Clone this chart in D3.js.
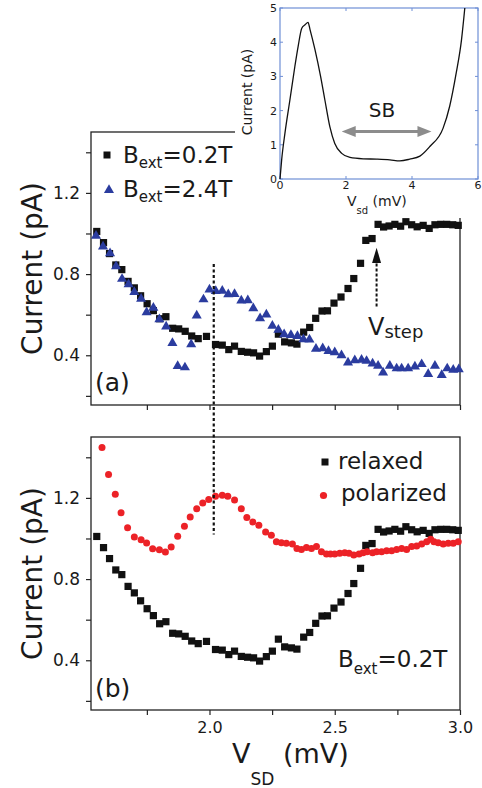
<!DOCTYPE html>
<html>
<head>
<meta charset="utf-8">
<script src="https://cdn.jsdelivr.net/npm/d3@7"></script>
<style>
  body { margin: 0; background: #fff; }
  svg { display: block; }
  text { font-family: "DejaVu Sans", sans-serif; fill: #1a1a1a; }
</style>
</head>
<body>
<div id="chart"></div>
<script>
// [V_SD (mV), current (pA)].
var relaxed = [
  [1.550, 1.010], [1.577, 0.955], [1.601, 0.901], [1.626, 0.845], [1.650, 0.822],
  [1.675, 0.764], [1.700, 0.732], [1.725, 0.693], [1.751, 0.654], [1.776, 0.620],
  [1.801, 0.580], [1.826, 0.590], [1.853, 0.533], [1.877, 0.530], [1.903, 0.518],
  [1.929, 0.495], [1.955, 0.482], [1.988, 0.493], [2.024, 0.453], [2.051, 0.450],
  [2.077, 0.428], [2.100, 0.445], [2.127, 0.419], [2.152, 0.415], [2.176, 0.412],
  [2.200, 0.396], [2.227, 0.418], [2.251, 0.445], [2.275, 0.504], [2.300, 0.466],
  [2.327, 0.461], [2.349, 0.455], [2.376, 0.514], [2.400, 0.537], [2.424, 0.582],
  [2.449, 0.618], [2.471, 0.619], [2.497, 0.657], [2.525, 0.687], [2.553, 0.729],
  [2.576, 0.778], [2.603, 0.853], [2.624, 0.966], [2.649, 0.975], [2.673, 1.045],
  [2.695, 1.032], [2.717, 1.037], [2.740, 1.045], [2.763, 1.036], [2.784, 1.058],
  [2.807, 1.043], [2.829, 1.033], [2.853, 1.040], [2.877, 1.025], [2.900, 1.043],
  [2.923, 1.045], [2.947, 1.045], [2.971, 1.043], [2.993, 1.040]
];

var field24 = [
  [1.547, 0.989], [1.575, 0.935], [1.603, 0.902], [1.627, 0.838], [1.651, 0.776],
  [1.677, 0.750], [1.700, 0.711], [1.727, 0.678], [1.749, 0.611], [1.776, 0.634],
  [1.800, 0.577], [1.827, 0.541], [1.852, 0.460], [1.873, 0.347], [1.902, 0.340],
  [1.927, 0.454], [1.949, 0.595], [1.976, 0.675], [2.000, 0.724], [2.025, 0.716],
  [2.051, 0.718], [2.075, 0.700], [2.100, 0.702], [2.127, 0.669], [2.153, 0.671],
  [2.175, 0.631], [2.202, 0.582], [2.227, 0.600], [2.251, 0.545], [2.275, 0.525],
  [2.298, 0.503], [2.325, 0.499], [2.351, 0.494], [2.375, 0.479], [2.399, 0.477],
  [2.425, 0.432], [2.452, 0.434], [2.475, 0.421], [2.500, 0.415], [2.527, 0.400],
  [2.553, 0.364], [2.580, 0.375], [2.607, 0.377], [2.627, 0.372], [2.651, 0.359],
  [2.673, 0.348], [2.693, 0.315], [2.720, 0.348], [2.747, 0.335], [2.767, 0.335],
  [2.793, 0.335], [2.820, 0.344], [2.847, 0.356], [2.873, 0.307], [2.900, 0.348],
  [2.927, 0.302], [2.949, 0.335], [2.973, 0.328], [2.995, 0.331]
];

var polarized = [
  [1.571, 1.448], [1.597, 1.315], [1.624, 1.218], [1.647, 1.127], [1.673, 1.053],
  [1.700, 1.007], [1.727, 0.994], [1.749, 0.978], [1.773, 0.950], [1.800, 0.945],
  [1.824, 0.933], [1.847, 0.958], [1.873, 1.011], [1.900, 1.060], [1.923, 1.106],
  [1.949, 1.147], [1.973, 1.175], [1.997, 1.192], [2.024, 1.208], [2.051, 1.213],
  [2.073, 1.208], [2.100, 1.189], [2.127, 1.147], [2.149, 1.103], [2.173, 1.081],
  [2.197, 1.065], [2.224, 1.032], [2.247, 1.016], [2.267, 0.984], [2.287, 0.979],
  [2.307, 0.976], [2.331, 0.973], [2.349, 0.951], [2.367, 0.946], [2.387, 0.956],
  [2.407, 0.951], [2.427, 0.960], [2.447, 0.935], [2.467, 0.923], [2.483, 0.923],
  [2.500, 0.923], [2.520, 0.927], [2.540, 0.930], [2.557, 0.927], [2.576, 0.919],
  [2.597, 0.923], [2.613, 0.930], [2.629, 0.935], [2.651, 0.930], [2.667, 0.935],
  [2.687, 0.935], [2.707, 0.940], [2.727, 0.940], [2.747, 0.946], [2.767, 0.951],
  [2.787, 0.946], [2.807, 0.960], [2.827, 0.963], [2.847, 0.973], [2.867, 0.984],
  [2.883, 0.996], [2.896, 0.984], [2.913, 0.979], [2.933, 0.973], [2.953, 0.976],
  [2.973, 0.976], [2.993, 0.984]
];

// Inset: full I-V trace, [V_sd (mV), current (pA)].
var insetCurve = [
  [0.00, 0.00], [0.05, 0.56], [0.15, 1.34], [0.30, 2.31], [0.45, 3.29],
  [0.55, 3.88], [0.66, 4.41], [0.76, 4.51], [0.85, 4.58], [0.91, 4.37],
  [1.06, 3.78], [1.23, 3.00], [1.36, 2.31], [1.51, 1.53], [1.66, 1.04],
  [1.87, 0.75], [2.12, 0.63], [2.52, 0.59], [2.93, 0.58], [3.33, 0.56],
  [3.63, 0.53], [3.93, 0.58], [4.24, 0.67], [4.54, 0.95], [4.94, 1.48],
  [5.14, 2.12], [5.34, 3.10], [5.50, 4.07], [5.60, 5.00]
];

var yTicks = [0.2, 0.4, 0.6, 0.8, 1.0, 1.2, 1.4];
var yLabels = [0.4, 0.8, 1.2];
var xTicks = [1.75, 2.0, 2.25, 2.5, 2.75, 3.0];
var xLabels = [2.0, 2.5, 3.0];
var insetXTicks = [0, 2, 4, 6];
var insetYTicks = [0, 1, 2, 3, 4, 5];
var sbRange = [1.87, 4.59];
var guideV = 2.017;
var stepV = 2.667;

var svg = d3.select('#chart').append('svg')
  .attr('width', 482)
  .attr('height', 788);

var x = d3.scaleLinear().domain([1.527, 3.0]).range([91, 460]);
var ya = d3.scaleLinear().domain([0.155, 1.5]).range([405, 132]);
var yb = d3.scaleLinear().domain([0.155, 1.5]).range([710, 437]);

function richText(px, py, size, parts) {
  var t = svg.append('text').attr('x', px).attr('y', py).attr('font-size', size);
  parts.forEach(function(p) {
    t.append('tspan').attr('font-size', p[1] || size).attr('dy', p[2] || 0).text(p[0]);
  });
  return t;
}

function panel(y, showX) {
  var g = svg.append('g');
  g.append('rect')
    .attr('x', x.range()[0])
    .attr('y', y.range()[1])
    .attr('width', x.range()[1] - x.range()[0])
    .attr('height', y.range()[0] - y.range()[1])
    .attr('fill', 'none')
    .attr('stroke', '#222')
    .attr('stroke-width', 1.3);

  var left = g.append('g')
    .attr('transform', 'translate(' + x.range()[0] + ',0)')
    .call(d3.axisLeft(y).tickValues(yTicks).tickSize(5).tickPadding(6)
      .tickFormat(function(d) { return yLabels.indexOf(d) >= 0 ? d3.format('.1f')(d) : ''; }));
  left.select('.domain').remove();
  left.selectAll('text').attr('font-size', 17);

  var bottom = g.append('g')
    .attr('transform', 'translate(0,' + y.range()[0] + ')')
    .call(d3.axisBottom(x).tickValues(xTicks).tickSize(5).tickPadding(7)
      .tickFormat(function(d) { return showX && xLabels.indexOf(d) >= 0 ? d3.format('.1f')(d) : ''; }));
  bottom.select('.domain').remove();
  bottom.selectAll('text').attr('font-size', 16);

  g.selectAll('.tick line').attr('stroke', '#222').attr('stroke-width', 1.2);
  g.selectAll('.tick text')
    .attr('font-family', '"DejaVu Sans", sans-serif')
    .attr('fill', '#1a1a1a');

  svg.append('text')
    .attr('transform', 'translate(42,' + (y.range()[0] + y.range()[1]) / 2 + ') rotate(-90)')
    .attr('text-anchor', 'middle')
    .attr('font-size', 28)
    .text('Current (pA)');
}

function squares(data, y) {
  svg.append('g').selectAll('rect').data(data).enter().append('rect')
    .attr('x', function(d) { return x(d[0]) - 3.6; })
    .attr('y', function(d) { return y(d[1]) - 3.6; })
    .attr('width', 7.2)
    .attr('height', 7.2)
    .attr('fill', '#111');
}

// Panel (a)
panel(ya, false);
squares(relaxed, ya);

var tri = d3.symbol().type(d3.symbolTriangle).size(44);
svg.append('g').selectAll('path').data(field24).enter().append('path')
  .attr('d', tri)
  .attr('transform', function(d) { return 'translate(' + x(d[0]) + ',' + ya(d[1]) + ')'; })
  .attr('fill', '#2b3c9f');

svg.append('rect').attr('x', 103.5).attr('y', 151.5).attr('width', 7).attr('height', 7).attr('fill', '#111');
richText(123, 163, 23, [['B'], ['ext', 15, 5], ['=0.2T', 23, -5]]);
svg.append('path').attr('d', tri).attr('transform', 'translate(109,190)').attr('fill', '#2b3c9f');
richText(123, 197, 23, [['B'], ['ext', 15, 5], ['=2.4T', 23, -5]]);
svg.append('text').attr('x', 95).attr('y', 391).attr('font-size', 25).text('(a)');

// V_step arrow
var sx = x(stepV);
svg.append('line')
  .attr('x1', sx).attr('x2', sx)
  .attr('y1', ya(0.64)).attr('y2', ya(0.86))
  .attr('stroke', '#111').attr('stroke-width', 2).attr('stroke-dasharray', '3,2');
svg.append('path')
  .attr('d', 'M' + sx + ',' + ya(0.93) + 'L' + (sx - 4.5) + ',' + ya(0.855) + 'L' + (sx + 4.5) + ',' + ya(0.855) + 'Z')
  .attr('fill', '#111');
richText(368, 335, 24, [['V'], ['step', 18, 3]]);

// Panel (b)
panel(yb, true);
squares(relaxed, yb);
svg.append('g').selectAll('circle').data(polarized).enter().append('circle')
  .attr('cx', function(d) { return x(d[0]); })
  .attr('cy', function(d) { return yb(d[1]); })
  .attr('r', 3.5)
  .attr('fill', '#ec2227');

svg.append('rect').attr('x', 321.5).attr('y', 458.5).attr('width', 7).attr('height', 7).attr('fill', '#111');
richText(338, 469, 23, [['relaxed']]);
svg.append('circle').attr('cx', 323.5).attr('cy', 495.5).attr('r', 3.6).attr('fill', '#ec2227');
richText(341, 501, 23, [['polarized']]);
richText(338, 667, 23, [['B'], ['ext', 15, 7], ['=0.2T', 23, -7]]);
svg.append('text').attr('x', 95).attr('y', 697).attr('font-size', 25).text('(b)');

richText(232, 763, 27, [['V'], ['SD', 17, 22], [' (mV)', 27, -22]]);

// Dashed guide through both panels
svg.append('line')
  .attr('x1', x(guideV)).attr('x2', x(guideV))
  .attr('y1', ya(0.85)).attr('y2', yb(1.02))
  .attr('stroke', '#111').attr('stroke-width', 2.2).attr('stroke-dasharray', '3,2.5');

// Inset
svg.append('rect').attr('x', 235).attr('y', 0).attr('width', 247).attr('height', 218).attr('fill', '#fff');

var xi = d3.scaleLinear().domain([0, 6]).range([280, 478]);
var yi = d3.scaleLinear().domain([0, 5]).range([179, 8]);
var blue = '#6f8fd6';

svg.append('rect')
  .attr('x', xi(0)).attr('y', yi(5))
  .attr('width', xi(6) - xi(0)).attr('height', yi(0) - yi(5))
  .attr('fill', 'none').attr('stroke', blue).attr('stroke-width', 1.2);

var inset = svg.append('g');
inset.selectAll('.xt').data(insetXTicks).enter().append('path')
  .attr('d', function(d) { return 'M' + xi(d) + ',' + yi(0) + 'v-3M' + xi(d) + ',' + yi(5) + 'v3'; })
  .attr('stroke', blue);
inset.selectAll('.yt').data(insetYTicks).enter().append('path')
  .attr('d', function(d) { return 'M' + xi(0) + ',' + yi(d) + 'h3M' + xi(6) + ',' + yi(d) + 'h-3'; })
  .attr('stroke', blue);
inset.selectAll('.xl').data(insetXTicks).enter().append('text')
  .attr('x', function(d) { return xi(d); })
  .attr('y', 189)
  .attr('text-anchor', 'middle')
  .attr('font-size', 11)
  .text(function(d) { return d; });
inset.selectAll('.yl').data(insetYTicks).enter().append('text')
  .attr('x', 277)
  .attr('y', function(d) { return yi(d); })
  .attr('dy', '0.36em')
  .attr('text-anchor', 'end')
  .attr('font-size', 11)
  .text(function(d) { return d; });

inset.append('path')
  .datum(insetCurve)
  .attr('d', d3.line().x(function(d) { return xi(d[0]); }).y(function(d) { return yi(d[1]); }).curve(d3.curveMonotoneX))
  .attr('fill', 'none')
  .attr('stroke', '#111')
  .attr('stroke-width', 1.3);

// SB double arrow
var ay = yi(1.39), ax0 = xi(sbRange[0]), ax1 = xi(sbRange[1]);
inset.append('line').attr('x1', ax0 + 10).attr('x2', ax1 - 10).attr('y1', ay).attr('y2', ay)
  .attr('stroke', '#8c8c8c').attr('stroke-width', 3);
inset.append('path')
  .attr('d', 'M' + ax0 + ',' + ay + 'l14,-5.5v11Z' + 'M' + ax1 + ',' + ay + 'l-14,-5.5v11Z')
  .attr('fill', '#8c8c8c');
inset.append('text').attr('x', 382).attr('y', 117).attr('text-anchor', 'middle').attr('font-size', 20).text('SB');

svg.append('text')
  .attr('transform', 'translate(252,92) rotate(-90)')
  .attr('text-anchor', 'middle')
  .attr('font-size', 14)
  .text('Current (pA)');
richText(347, 206, 14, [['V'], ['sd', 10, 8], [' (mV)', 14, -8]]);
</script>
</body>
</html>
